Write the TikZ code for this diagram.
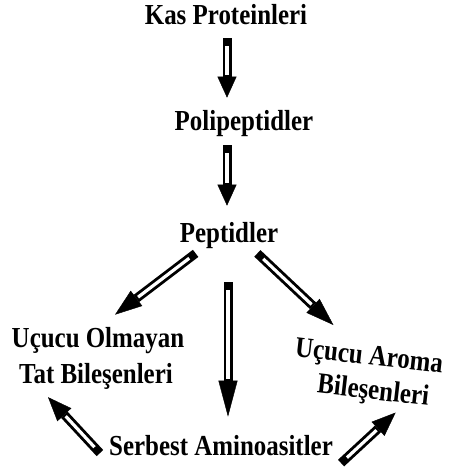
\documentclass[tikz,border=0pt]{standalone}
\usepackage{fontspec}
\newfontfamily\labfont{Liberation Serif}[FakeStretch=0.86]
\usetikzlibrary{arrows.meta}

\tikzset{
  arrowbody/.style={draw, line width=9pt,
    -{Triangle[length=#1,width=19pt,line width=0.4pt]},
    postaction={draw=white, line width=3.2pt, -, shorten <=8pt, shorten >=#1+2pt}}
}

\begin{document}
\begin{tikzpicture}[x=1pt,y=-1pt]

      \useasboundingbox (0,0) rectangle (455,472);

      \begin{scope}[every node/.style={inner sep=0pt,anchor=base,
          font=\labfont\bfseries\fontsize{29}{34}\selectfont}]
        \node (kas)  at (226,24)  {Kas Proteinleri};
        \node (poli) at (244,130) {Polipeptidler};
        \node (pep)  at (229,242) {Peptidler};
        \node (uo1)  at (98,347)  {Uçucu Olmayan};
        \node (uo2)  at (96,383)  {Tat Bileşenleri};
        \node[rotate=-6.5,anchor=center,align=center] (ar) at (367,375)
          {Uçucu Aroma\\\hspace*{16pt}Bileşenleri};
        \node (ser)  at (221,455) {Serbest Aminoasitler};
      \end{scope}

      \path ([xshift=1pt,yshift=-14pt]kas.base) edge[arrowbody=21pt] ([xshift=-17pt,yshift=12pt]poli.north);
      \path ([xshift=-17pt,yshift=-15pt]poli.base) edge[arrowbody=21pt] ([xshift=-2pt,yshift=16pt]pep.north);
      \path ([xshift=-1pt,yshift=-34pt]pep.south) edge[arrowbody=36pt] ([xshift=7pt,yshift=18pt]ser.north);
      \path ([xshift=16pt,yshift=-5pt]pep.south west) edge[arrowbody=27pt] ([xshift=17pt,yshift=12pt]uo1.north);
      \path ([xshift=-21pt,yshift=-5pt]pep.south east) edge[arrowbody=28pt] ([xshift=37pt,yshift=12pt]ar.north west);
      \path ([xshift=-9pt,yshift=-8pt]ser.west) edge[arrowbody=24pt] ([xshift=29pt,yshift=-8pt]uo2.south west);
      \path ([xshift=8pt,yshift=-18pt]ser.east) edge[arrowbody=24pt] ([xshift=32pt,yshift=-8pt]ar.south);

    \end{tikzpicture}
\end{document}
